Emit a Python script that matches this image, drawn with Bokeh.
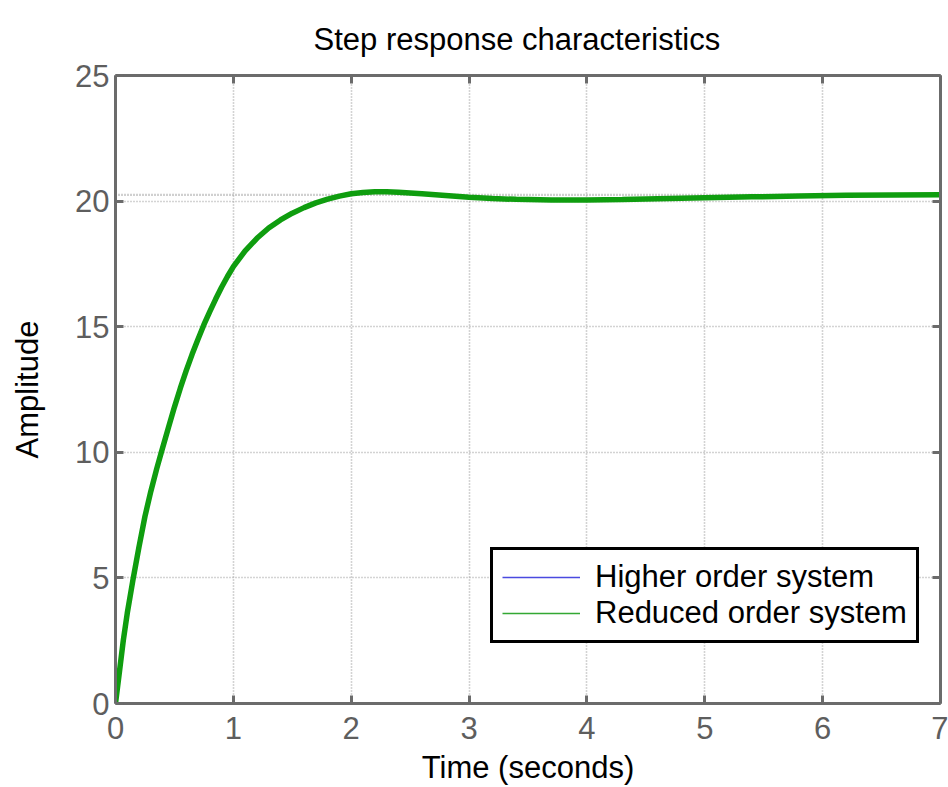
from bokeh.plotting import figure
from bokeh.models import Range1d, LinearAxis, FixedTicker, Legend, LegendItem, Span
from bokeh.embed import file_html
from bokeh.resources import INLINE

# ---- data ----
time_s = [0.0, 0.033, 0.066, 0.1, 0.151, 0.2, 0.25, 0.3, 0.35, 0.389, 0.45, 0.5,
          0.55, 0.6, 0.65, 0.7, 0.75, 0.8, 0.85, 0.9, 0.95, 1.0, 1.1, 1.2, 1.3,
          1.4, 1.5, 1.6, 1.7, 1.8, 1.9, 2.0, 2.1, 2.2, 2.3, 2.4, 2.6, 2.8, 3.0,
          3.2, 3.4, 3.7, 4.0, 4.3, 4.6, 5.0, 5.4, 5.8, 6.2, 6.6, 7.0]
higher_order = [0.0, 1.25, 2.5, 3.6, 5.0, 6.25, 7.45, 8.45, 9.35, 10.0, 11.0, 11.8,
                12.55, 13.25, 13.9, 14.5, 15.08, 15.6, 16.1, 16.57, 17.0, 17.39, 18.02, 18.52, 18.93,
                19.25, 19.52, 19.74, 19.93, 20.08, 20.2, 20.29, 20.34, 20.37, 20.37, 20.35, 20.29, 20.22, 20.15,
                20.1, 20.07, 20.04, 20.04, 20.06, 20.09, 20.13, 20.17, 20.2, 20.23, 20.24, 20.25]
reduced_order = [0.0, 1.25, 2.5, 3.6, 5.0, 6.25, 7.45, 8.45, 9.35, 10.0, 11.0, 11.8,
                 12.55, 13.25, 13.9, 14.5, 15.08, 15.6, 16.1, 16.57, 17.0, 17.39, 18.02, 18.52, 18.93,
                 19.25, 19.52, 19.74, 19.93, 20.08, 20.2, 20.29, 20.34, 20.37, 20.37, 20.35, 20.29, 20.22, 20.15,
                 20.1, 20.07, 20.04, 20.04, 20.06, 20.09, 20.13, 20.17, 20.2, 20.23, 20.24, 20.25]
steady_state = 20.25
x_ticks = [0, 1, 2, 3, 4, 5, 6, 7]
y_ticks = [0, 5, 10, 15, 20, 25]
series_names = ["Higher order system", "Reduced order system"]

FONT = "Liberation Sans"
AXC = "#6b6b6b"
GRIDC = "#a8a8a8"

p = figure(width=948, height=787, output_backend="svg", toolbar_location=None,
           x_range=Range1d(0, 7), y_range=Range1d(0, 25),
           min_border_left=115, min_border_right=8, min_border_top=74, min_border_bottom=82)
p.title.text = "Step response characteristics"
p.title.text_font = FONT
p.title.text_font_size = "31px"
p.title.text_font_style = "normal"
p.title.text_color = "#000000"
p.title.align = "left"
p.title.offset = 198
p.title.standoff = 38
p.outline_line_color = None
p.background_fill_color = "white"
p.border_fill_color = "white"

xa = p.xaxis[0]
ya = p.yaxis[0]
xa.ticker = FixedTicker(ticks=x_ticks)
ya.ticker = FixedTicker(ticks=y_ticks)
for ax in (xa, ya):
    ax.axis_line_color = AXC
    ax.axis_line_width = 3
    ax.major_tick_line_color = AXC
    ax.major_tick_line_width = 3
    ax.major_tick_in = 8
    ax.major_tick_out = 0
    ax.minor_tick_line_color = None
    ax.major_label_text_font = FONT
    ax.major_label_text_font_size = "31px"
    ax.major_label_text_color = "#5e5e5e"
    ax.axis_label_text_font = FONT
    ax.axis_label_text_font_size = "31px"
    ax.axis_label_text_font_style = "normal"
    ax.axis_label_text_color = "#000000"
xa.axis_label = "Time (seconds)"
ya.axis_label = "Amplitude"
xa.major_label_standoff = 13
ya.major_label_standoff = 6
xa.axis_label_standoff = 8
ya.axis_label_standoff = 27

for loc, ticks in (("above", x_ticks), ("right", y_ticks)):
    ax = LinearAxis(ticker=FixedTicker(ticks=ticks))
    ax.axis_line_color = AXC
    ax.axis_line_width = 3
    ax.major_tick_line_color = AXC
    ax.major_tick_line_width = 3
    ax.major_tick_in = 8
    ax.major_tick_out = 0
    ax.minor_tick_line_color = None
    ax.major_label_overrides = {t: "" for t in ticks}
    ax.major_label_standoff = 0
    p.add_layout(ax, loc)

for g in (p.xgrid[0], p.ygrid[0]):
    g.grid_line_color = GRIDC
    g.grid_line_dash = "1 2"
    g.grid_line_width = 1.6
p.xgrid[0].ticker = FixedTicker(ticks=x_ticks)
p.ygrid[0].ticker = FixedTicker(ticks=y_ticks)

p.add_layout(Span(location=steady_state, dimension="width", line_color="#a0a0a0",
                  line_dash="1 2", line_width=2.2, level="underlay"))

r_hi = p.line(time_s, higher_order, line_color="#4a4ae0", line_width=1.5)
r_red = p.line(time_s, reduced_order, line_color="#33a833", line_width=1.5)
r_red_thick = p.line(time_s, reduced_order, line_color="#0f9d0f", line_width=5.5)

legend = Legend(items=[LegendItem(label=series_names[0], renderers=[r_hi]),
                       LegendItem(label=series_names[1], renderers=[r_red])],
                location=(375, 60))
legend.border_line_color = "#000000"
legend.border_line_width = 3
legend.border_line_alpha = 1
legend.background_fill_color = "white"
legend.background_fill_alpha = 1
legend.label_text_font = FONT
legend.label_text_font_size = "31px"
legend.label_text_color = "#000000"
legend.glyph_width = 78
legend.glyph_height = 34
legend.label_height = 34
legend.spacing = 0
legend.padding = 9
legend.margin = 0
legend.label_standoff = 15
p.add_layout(legend, "center")

open("out.html", "w").write(file_html(p, INLINE))
